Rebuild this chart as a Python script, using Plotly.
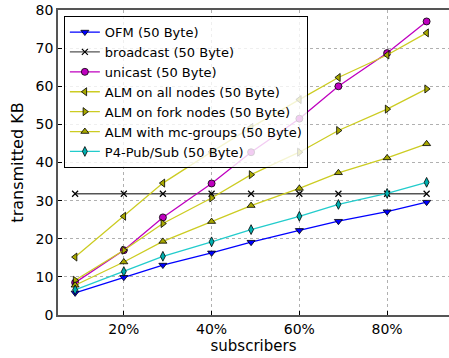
import plotly.graph_objects as go

# subscriber share (%) for each measurement point
subscribers = [8.9, 20, 28.9, 40, 49, 60, 68.9, 80, 89]

ofm = [5.8, 9.9, 13.1, 16.3, 19.1, 22.2, 24.6, 27.1, 29.6]
broadcast = [31.8, 31.8, 31.8, 31.8, 31.8, 31.8, 31.8, 31.8, 31.8]
unicast = [8.5, 17.0, 25.6, 34.5, 42.7, 51.5, 60.0, 68.7, 77.0]
alm_all = [15.2, 25.9, 34.6, 42.8, 49.2, 56.5, 62.3, 68.2, 74.0]
alm_fork = [9.1, 17.0, 24.0, 30.7, 36.8, 42.7, 48.4, 54.0, 59.3]
alm_mc = [7.8, 13.9, 19.3, 24.5, 28.7, 33.2, 37.3, 41.2, 44.9]
p4_pubsub = [6.6, 11.4, 15.4, 19.2, 22.4, 25.9, 29.0, 31.9, 34.8]

x_ticks = [20, 40, 60, 80]
x_tick_labels = ["20%", "40%", "60%", "80%"]
y_ticks = [0, 10, 20, 30, 40, 50, 60, 70, 80]

series = [
    ("OFM (50 Byte)", ofm, "#0000ff", "#0000ff", "triangle-down"),
    ("broadcast (50 Byte)", broadcast, "#555555", "#000000", "x-thin"),
    ("unicast (50 Byte)", unicast, "#bf00bf", "#bf00bf", "circle"),
    ("ALM on all nodes (50 Byte)", alm_all, "#cccc22", "#a8a800", "triangle-left"),
    ("ALM on fork nodes (50 Byte)", alm_fork, "#cccc22", "#a8a800", "triangle-right"),
    ("ALM with mc-groups (50 Byte)", alm_mc, "#cccc22", "#a8a800", "triangle-up"),
    ("P4-Pub/Sub (50 Byte)", p4_pubsub, "#22cccc", "#00b0b0", "diamond-tall"),
]

fig = go.Figure()
for name, vals, line_color, fill, symbol in series:
    marker = dict(symbol=symbol, size=7, color=fill,
                  line=dict(color="#000000", width=0.8))
    if symbol == "x-thin":
        marker = dict(symbol=symbol, size=6, color="#000000",
                      line=dict(color="#000000", width=1.2))
    fig.add_trace(go.Scatter(
        x=subscribers, y=vals, name=name, mode="lines+markers",
        line=dict(color=line_color, width=1.3), marker=marker,
    ))

font_family = "DejaVu Sans"
fig.update_layout(
    width=449, height=358,
    margin=dict(l=58, r=0, t=10, b=43),
    paper_bgcolor="white", plot_bgcolor="white",
    font=dict(family=font_family, color="#000000", size=14),
    showlegend=True,
    legend=dict(
        x=0.015, y=0.98, xanchor="left", yanchor="top",
        bgcolor="rgba(255,255,255,0.8)", bordercolor="#000000", borderwidth=1,
        font=dict(family=font_family, size=13),
        tracegroupgap=0, itemwidth=30,
    ),
    xaxis=dict(
        range=[5, 94.1], tickvals=x_ticks, ticktext=x_tick_labels,
        showgrid=True, gridcolor="#b0b0b0", griddash="dot", gridwidth=1,
        showline=True, linecolor="#555555", linewidth=1.5, mirror=True,
        ticks="inside", ticklen=4, tickcolor="#000000",
        zeroline=False,
        title=dict(text="subscribers", font=dict(size=15), standoff=2),
        tickfont=dict(size=14),
    ),
    yaxis=dict(
        range=[0, 80], tickvals=y_ticks,
        showgrid=True, gridcolor="#b0b0b0", griddash="dot", gridwidth=1,
        showline=True, linecolor="#555555", linewidth=1.5,
        ticks="inside", ticklen=4, tickcolor="#000000",
        zeroline=False,
        title=dict(text="transmitted KB", font=dict(size=16), standoff=8),
        tickfont=dict(size=14),
    ),
)

fig.write_html("out.html")
